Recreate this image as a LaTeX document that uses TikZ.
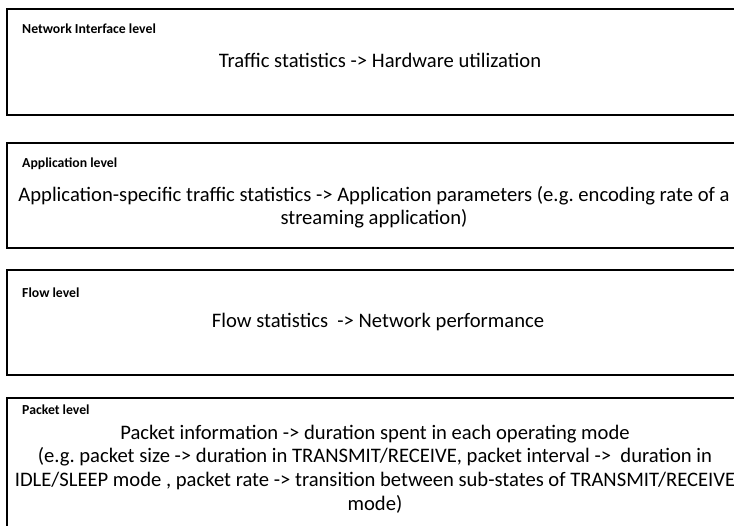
\documentclass[tikz,border=0pt]{standalone}
\usepackage{fontspec}
\setmainfont{Carlito}
\usetikzlibrary{positioning}
\definecolor{ink}{HTML}{000000}
\frenchspacing
\tikzset{
  levelbox/.style={draw=ink,line width=1.6bp,anchor=north west,
                   minimum width=750bp,inner sep=0pt},
  leveltitle/.style={anchor=west,inner sep=0pt,
                     font=\fontsize{13.8}{16}\selectfont\bfseries},
  levelbody/.style={align=center,inner sep=0pt,
                    font=\fontsize{20.7}{23.6}\selectfont}
}

\begin{document}
\begin{tikzpicture}[x=1bp,y=-1bp]
  \clip (0,0) rectangle (734,526);
  % network interface level
  \node[levelbox,minimum height=106bp] (nilBox) at (6,8) {};
  \node[leveltitle] (nilTitle) at (22,29) {Network Interface level};
  \node[levelbody] (nilText) at (380,60) {Traffic statistics -> Hardware utilization};
  % application level
  \node[levelbox,minimum height=105bp] (appBox) at (6,142) {};
  \node[leveltitle] (appTitle) at (22,164) {Application level};
  \node[levelbody] (appText) at (374,207)
    {Application-specific traffic statistics -> Application parameters (e.g. encoding rate of a\\
     streaming application)};
  % flow level
  \node[levelbox,minimum height=105bp] (flowBox) at (6,269) {};
  \node[leveltitle] (flowTitle) at (22,293) {Flow level};
  \node[levelbody] (flowText) at (378,322) {Flow statistics\ \ -> Network performance};
  % packet level
  \node[levelbox,minimum height=150bp] (pktBox) at (6,397) {};
  \node[leveltitle] (pktTitle) at (22,410) {Packet level};
  \node[levelbody] (pktText) at (375,469)
    {Packet information -> duration spent in each operating mode\\
     (e.g. packet size -> duration in TRANSMIT/RECEIVE, packet interval ->\ \ duration in\\
     IDLE/SLEEP mode , packet rate -> transition between sub-states of TRANSMIT/RECEIVE\\
     mode)};
\end{tikzpicture}
\end{document}
